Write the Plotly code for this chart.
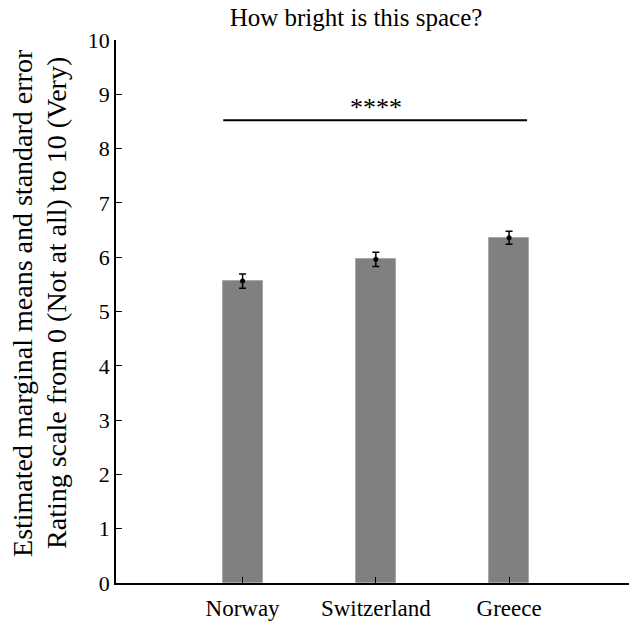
import plotly.graph_objects as go

categories = ["Norway", "Switzerland", "Greece"]
means = [5.56, 5.96, 6.36]
se = [0.13, 0.13, 0.12]
sig_y = 8.52
sig_label = "****"
title = "How bright is this space?"
ytitle_lines = ["Estimated marginal means and standard error",
                "Rating scale from 0 (Not at all) to 10 (Very)"]

FONT = "Liberation Serif"
xs = list(range(len(categories)))

fig = go.Figure()
fig.add_trace(go.Bar(
    x=xs, y=means, width=0.3,
    marker=dict(color="#808080", line=dict(color="#a8a8a8", width=1)),
    showlegend=False, hoverinfo="skip",
))
fig.add_trace(go.Scatter(
    x=xs, y=means, mode="markers",
    marker=dict(color="black", size=5),
    error_y=dict(type="data", array=se, visible=True, color="black", thickness=1.5, width=3.5),
    showlegend=False,
))
fig.add_shape(type="line", xref="x", yref="y", x0=-0.145, x1=2.135, y0=sig_y, y1=sig_y,
              line=dict(color="black", width=2))
fig.add_annotation(x=1, y=sig_y, xref="x", yref="y", text=sig_label, showarrow=False,
                   yanchor="bottom", yshift=-4, font=dict(family=FONT, size=26, color="black"))

for line, shift in zip(ytitle_lines, [-93, -59]):
    fig.add_annotation(x=0, y=0.5157, xref="paper", yref="paper", text=line, textangle=-90,
                       showarrow=False, xanchor="center", yanchor="middle", xshift=shift,
                       font=dict(family=FONT, size=28, color="black"))

fig.update_layout(
    width=629, height=621,
    margin=dict(l=116, r=0, t=40, b=38, autoexpand=False),
    plot_bgcolor="white", paper_bgcolor="white",
    font=dict(family=FONT, size=22, color="black"),
    title=dict(text=title, x=356 / 629, xanchor="center", xref="container", y=1 - 17 / 621,
               yanchor="middle", font=dict(family=FONT, size=25, color="black")),
    bargap=0,
)
fig.update_xaxes(
    range=[-0.95, 2.9], tickmode="array", tickvals=xs, ticktext=categories,
    showline=True, linecolor="black", linewidth=2, ticks="inside", ticklen=6,
    tickcolor="black", showgrid=False, zeroline=False, tickfont=dict(size=23),
    ticklabelstandoff=3, automargin=False,
)
fig.update_yaxes(
    range=[0, 10], dtick=1, showline=True, linecolor="black", linewidth=1.5,
    ticks="inside", ticklen=6, tickcolor="black", showgrid=False, zeroline=False,
    tickfont=dict(size=22), automargin=False,
)
fig.write_html("out.html", config={"displayModeBar": False},
               post_script="document.body.style.margin='0';")
